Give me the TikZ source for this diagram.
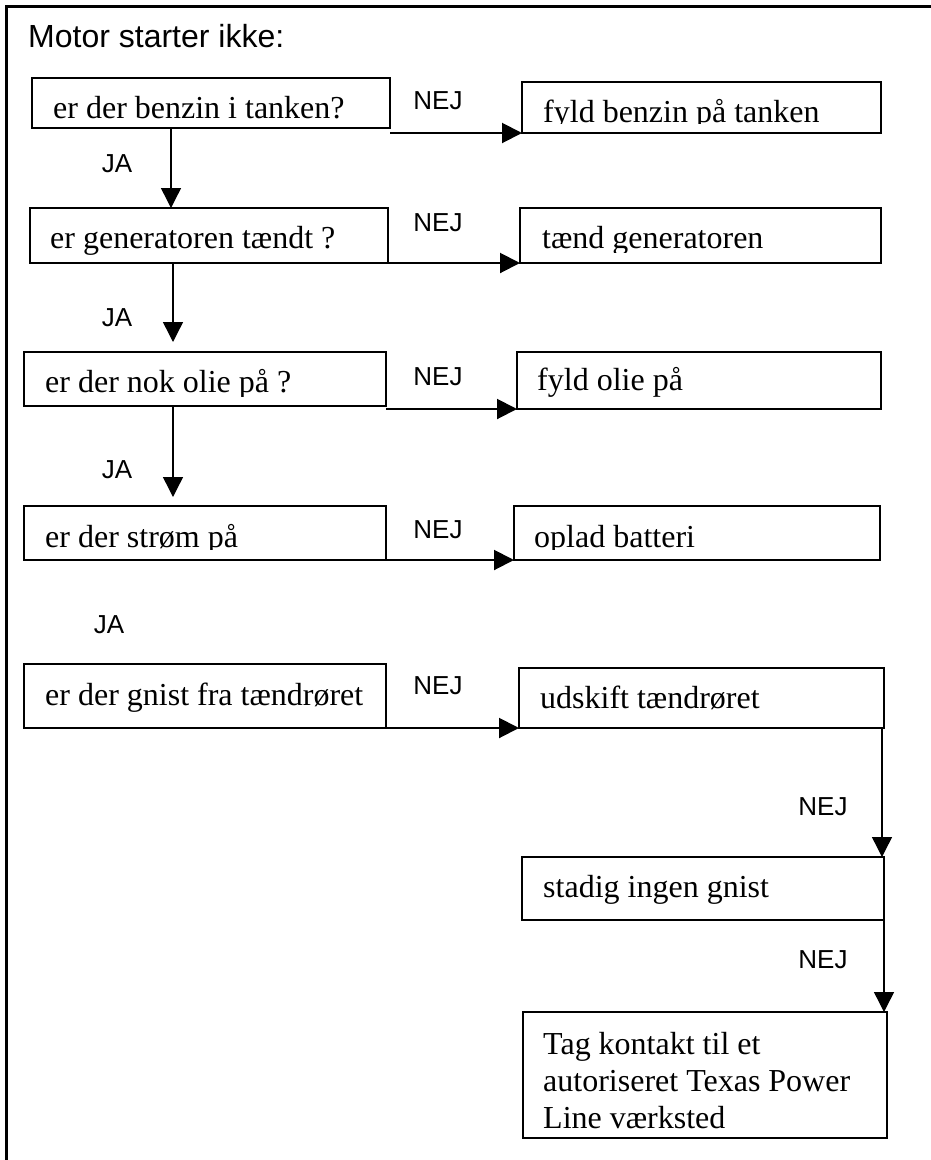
\documentclass[tikz,border=0pt]{standalone}
\usepackage{fontspec}
\setmainfont{Liberation Serif}
\newfontfamily\labelsans{Liberation Sans}
\usetikzlibrary{arrows.meta}
\begin{document}
\begin{tikzpicture}[x=1pt,y=-1pt,
  box/.style={draw, line width=2pt, inner sep=0pt, outer sep=0pt, anchor=north west},
  txt/.style={anchor=base west, inner sep=0pt, font=\fontsize{32}{37}\selectfont},
  lbl/.style={inner sep=0pt, font=\labelsans\fontsize{26}{30}\selectfont},
  harrow/.style={line width=2pt, -{Triangle[length=20pt,width=20pt]}},
  varrow/.style={line width=1.4pt, -{Triangle[length=20pt,width=20pt]}},
  frame/.style={line width=2.2pt}]
\useasboundingbox (0,0) rectangle (930,1160);
\fill[white] (0,0) rectangle (930,1160);
% outer frame (right and bottom edges lie outside the picture)
\draw[frame] (940,6.5) -- (6.5,6.5) -- (6.5,1170);
\node[anchor=base west, inner sep=0pt, font=\labelsans\fontsize{32}{38}\selectfont] (title) at (28,47) {Motor starter ikke:};

% boxes
\node[box, minimum width=358, minimum height=50] (q1) at (32,78) {};
\node[box, minimum width=359, minimum height=51] (a1) at (522,82) {};
\node[box, minimum width=358, minimum height=55] (q2) at (30,208) {};
\node[box, minimum width=361, minimum height=55] (a2) at (520,208) {};
\node[box, minimum width=362, minimum height=54] (q3) at (24,352) {};
\node[box, minimum width=364, minimum height=57] (a3) at (517,352) {};
\node[box, minimum width=362, minimum height=54] (q4) at (24,506) {};
\node[box, minimum width=366, minimum height=54] (a4) at (514,506) {};
\node[box, minimum width=362, minimum height=64] (q5) at (24,664) {};
\node[box, minimum width=365, minimum height=60] (a5) at (519,668) {};
\node[box, minimum width=362, minimum height=63] (b6) at (522,857) {};
\node[box, minimum width=364, minimum height=126] (b7) at (523,1012) {};

% box texts
\node[txt] (q1t) at (53,118) {er der benzin i tanken?};
\begin{scope}
  \clip (a1.north west) rectangle ([yshift=10pt]a1.south east);
  \node[txt] (a1t) at (543,122) {fyld benzin på tanken};
\end{scope}
\node[txt] (q2t) at (50,248) {er generatoren tændt ?};
\begin{scope}
  \clip (a2.north west) rectangle ([yshift=11pt]a2.south east);
  \node[txt] (a2t) at (542,248) {tænd generatoren};
\end{scope}
\begin{scope}
  \clip (q3.north west) rectangle ([yshift=10pt]q3.south east);
  \node[txt] (q3t) at (45,392) {er der nok olie på ?};
\end{scope}
\node[txt] (a3t) at (537,390) {fyld olie på};
\begin{scope}
  \clip (q4.north west) rectangle ([yshift=11pt]q4.south east);
  \node[txt] (q4t) at (45,547) {er der strøm på};
\end{scope}
\begin{scope}
  \clip (a4.north west) rectangle ([yshift=11pt]a4.south east);
  \node[txt] (a4t) at (534,547) {oplad batteri};
\end{scope}
\node[txt] (q5t) at (45,705) {er der gnist fra tændrøret};
\node[txt] (a5t) at (540,708) {udskift tændrøret};
\node[txt] (b6t) at (543,897) {stadig ingen gnist};
\node[txt, anchor=north west, align=left] (b7t) at (543,1032) {Tag kontakt til et\\autoriseret Texas Power\\Line værksted};

% labels
\node[lbl] (n1) at (438,101) {NEJ};
\node[lbl] (n2) at (438,223) {NEJ};
\node[lbl] (n3) at (438,377) {NEJ};
\node[lbl] (n4) at (438,530) {NEJ};
\node[lbl] (n5) at (438,686) {NEJ};
\node[lbl] (n6) at (823,807) {NEJ};
\node[lbl] (n7) at (823,960) {NEJ};
\node[lbl] (j1) at (117,164) {JA};
\node[lbl] (j2) at (117,318) {JA};
\node[lbl] (j3) at (117,470) {JA};
\node[lbl] (j4) at (109,625) {JA};

% horizontal NEJ arrows
\draw[harrow] (q1.east |- a1.south west) -- (a1.south west);
\draw[harrow] (q2.east |- a2.south west) -- (a2.south west);
\draw[harrow] (q3.east |- a3.south west) -- (a3.south west);
\draw[harrow] (q4.east |- a4.south west) -- (a4.south west);
\draw[harrow] (q5.east |- a5.south west) -- (a5.south west);

% vertical arrows
\draw[varrow] ([xshift=139pt]q1.south west) -- ([xshift=141pt]q2.north west);
\draw[varrow] ([xshift=143pt]q2.south west) -- ([xshift=149pt,yshift=10pt]q3.north west);
\draw[varrow] ([xshift=149pt]q3.south west) -- ([xshift=149pt,yshift=9pt]q4.north west);
\draw[varrow] ([xshift=-2pt]a5.south east) -- ([xshift=-2pt]b6.north east);
\draw[varrow] (b6.south east) -- ([xshift=-3pt]b7.north east);
\end{tikzpicture}
\end{document}
